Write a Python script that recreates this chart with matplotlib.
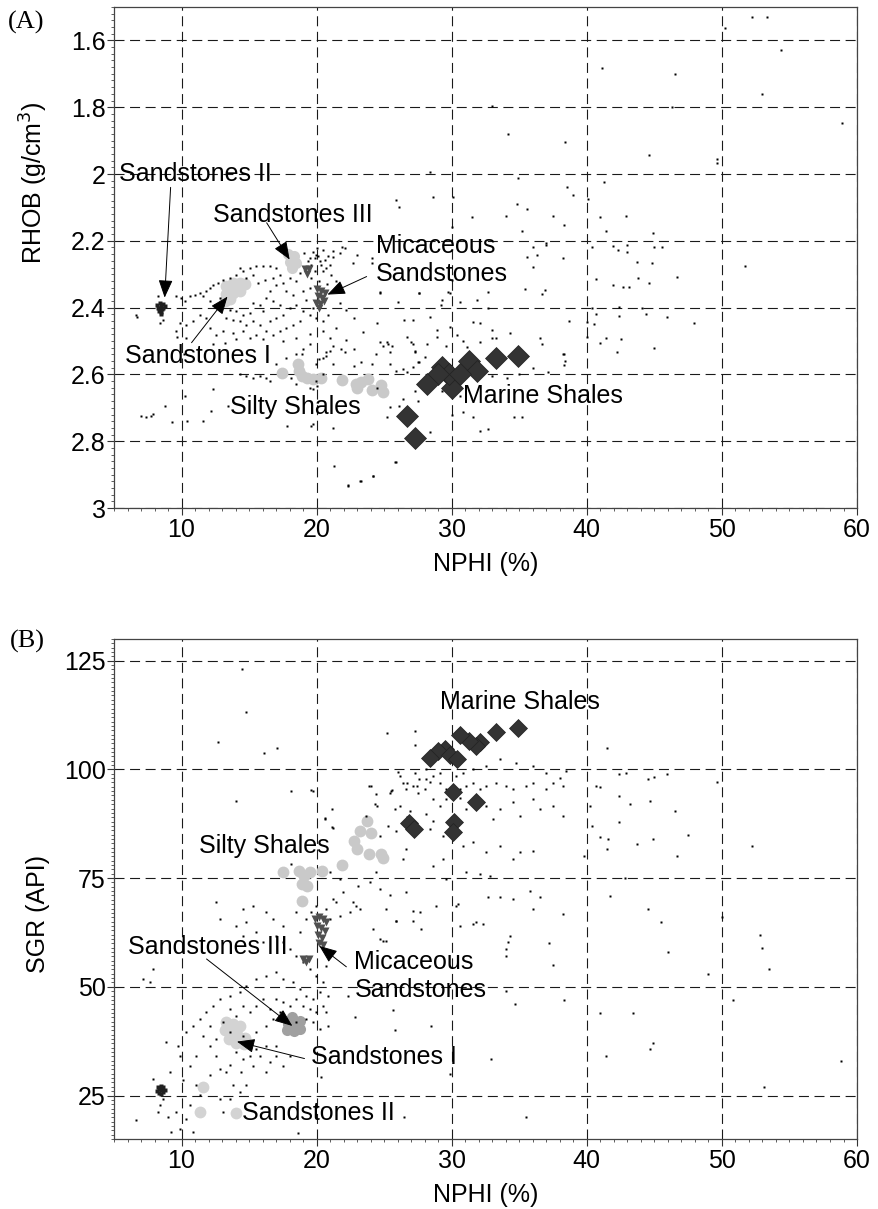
import numpy as np
import matplotlib
matplotlib.use("Agg")
import matplotlib.pyplot as plt
from matplotlib.ticker import MultipleLocator, FixedLocator

plt.rcParams['font.family'] = ['Liberation Sans', 'DejaVu Sans']

# ---- (A) NPHI vs RHOB ----
# background log samples
dots_a = [
    (50.2, 1.564), (52.2, 1.53), (53.3, 1.53), (54.4, 1.63), (41.1, 1.684), (46.5, 1.70), (52.96, 1.76),
    (58.9, 1.846), (33.0, 1.797), (46.3, 1.80), (34.2, 1.88), (38.4, 1.904), (44.6, 1.943), (49.6, 1.955),
    (49.6, 1.968), (34.9, 2.012), (38.5, 2.04), (39.0, 2.063), (34.8, 2.09), (35.6, 2.104), (41.3, 2.024),
    (40.1, 2.074), (34.0, 2.125), (37.5, 2.125), (41.0, 2.128), (42.9, 2.125), (31.5, 2.13), (35.2, 2.17),
    (38.3, 2.152), (41.4, 2.17), (44.9, 2.176), (30.1, 2.068), (36.0, 2.22), (35.6, 2.248), (36.3, 2.242),
    (37.0, 2.212), (38.2, 2.25), (36.0, 2.277), (40.4, 2.218), (41.9, 2.215), (42.3, 2.227), (43.0, 2.212),
    (43.0, 2.233), (43.7, 2.263), (44.8, 2.266), (45.0, 2.218), (45.6, 2.218), (40.7, 2.313), (41.9, 2.331),
    (42.7, 2.337), (43.1, 2.337), (43.8, 2.31), (44.6, 2.325), (46.7, 2.307), (51.7, 2.275), (35.4, 2.343),
    (36.9, 2.346), (36.7, 2.36), (32.7, 2.352), (29.9, 2.355),
    (40.4, 2.40), (42.4, 2.397), (44.1, 2.40), (40.7, 2.42), (42.4, 2.424), (44.4, 2.418), (45.9, 2.427),
    (47.9, 2.445), (38.7, 2.439), (40.0, 2.442), (40.5, 2.448), (40.0, 2.487), (41.4, 2.49), (42.5, 2.493),
    (41.0, 2.507), (45.0, 2.52), (42.2, 2.534), (38.3, 2.54), (38.4, 2.56), (38.3, 2.573),
    (20.2, 2.555), (21.2, 2.57), (20.7, 2.546), (22.1, 2.534), (22.8, 2.525), (23.3, 2.564), (24.1, 2.57),
    (24.4, 2.54), (24.7, 2.504), (25.3, 2.51), (25.4, 2.57), (25.9, 2.59), (26.7, 2.594), (27.1, 2.579),
    (27.3, 2.534), (28.0, 2.549), (28.2, 2.51), (27.5, 2.564), (26.7, 2.487), (27.1, 2.51), (28.9, 2.487),
    (29.6, 2.516), (30.4, 2.481), (30.8, 2.5), (31.1, 2.519), (32.1, 2.504), (33.0, 2.49), (34.3, 2.475),
    (36.5, 2.49), (36.7, 2.51), (38.2, 2.54), (36.0, 2.58), (37.1, 2.594), (33.0, 2.606), (34.1, 2.61),
    (35.0, 2.6), (30.4, 2.645), (30.6, 2.666), (30.8, 2.714), (31.6, 2.728), (32.1, 2.77), (32.7, 2.764),
    (34.6, 2.728), (35.2, 2.728), (30.0, 2.72), (29.3, 2.65), (27.3, 2.65), (27.5, 2.68), (26.4, 2.675),
    (26.1, 2.696), (25.4, 2.699), (25.2, 2.728), (28.4, 2.773), (25.9, 2.863), (24.2, 2.904), (23.3, 2.92),
    (22.3, 2.93), (21.3, 2.875), (19.6, 2.755), (21.2, 2.761), (18.9, 2.54), (19.7, 2.645), (20.0, 2.636),
    (22.8, 2.576), (24.5, 2.64),
    (23.0, 2.242), (24.7, 2.352), (24.1, 2.266), (26.0, 2.382), (27.6, 2.355), (29.3, 2.376), (30.6, 2.382),
    (31.9, 2.376), (32.7, 2.4), (29.2, 2.391), (29.7, 2.352), (26.5, 2.436), (27.1, 2.436), (28.4, 2.427),
    (28.9, 2.466), (29.9, 2.457), (31.6, 2.442), (32.1, 2.445), (33.0, 2.466), (33.3, 2.49), (25.2, 2.502),
    (25.6, 2.516), (25.4, 2.534), (27.0, 2.504), (27.3, 2.531), (27.6, 2.564), (26.4, 2.585), (24.5, 2.445),
    (22.8, 2.43), (22.2, 2.406), (21.7, 2.385), (23.4, 2.472), (22.2, 2.496), (21.2, 2.516), (21.8, 2.525),
    (20.7, 2.534), (24.9, 2.516),
    (25.9, 2.078), (26.1, 2.1), (28.6, 2.07), (22.7, 2.266), (24.1, 2.25), (22.1, 2.221), (21.2, 2.248),
    (21.7, 2.236), (21.9, 2.218), (24.7, 2.355), (27.6, 2.357), (28.4, 1.994), (30.0, 2.158), (30.0, 2.316),
    (37.0, 2.206),
    (6.64, 2.423), (8.37, 2.446), (8.62, 2.436), (8.25, 2.366), (9.60, 2.366), (9.98, 2.371), (10.22, 2.381),
    (10.59, 2.366), (10.96, 2.361), (11.33, 2.356), (11.58, 2.366), (11.83, 2.351), (12.07, 2.341),
    (12.07, 2.381), (12.44, 2.391), (12.81, 2.371), (12.32, 2.331), (12.69, 2.326), (13.06, 2.316),
    (13.56, 2.311), (14.05, 2.301), (14.54, 2.291), (15.04, 2.281), (15.53, 2.276), (16.02, 2.276),
    (16.52, 2.276), (17.01, 2.281), (17.26, 2.301), (14.3, 2.281), (14.79, 2.311), (15.28, 2.301),
    (15.65, 2.326), (16.15, 2.316), (16.77, 2.311), (17.01, 2.331), (17.51, 2.326), (18.0, 2.311),
    (18.49, 2.321), (17.75, 2.351), (18.25, 2.361), (16.52, 2.351), (16.27, 2.371), (16.77, 2.381),
    (17.26, 2.391), (15.78, 2.391), (15.28, 2.386), (16.02, 2.411), (15.04, 2.416), (14.54, 2.421),
    (14.05, 2.411), (13.56, 2.406), (13.31, 2.431), (13.80, 2.436), (14.30, 2.441), (14.79, 2.451),
    (15.28, 2.441), (15.78, 2.451), (16.52, 2.441), (17.01, 2.431), (17.51, 2.421), (18.0, 2.401),
    (18.49, 2.391), (18.99, 2.411), (19.48, 2.421), (18.74, 2.441), (18.25, 2.451), (17.75, 2.461),
    (17.26, 2.471), (16.77, 2.481), (16.27, 2.471), (15.53, 2.481), (15.04, 2.491), (14.54, 2.471),
    (13.80, 2.476), (13.06, 2.471), (12.57, 2.481), (12.07, 2.461), (11.83, 2.431), (11.33, 2.421),
    (10.84, 2.441), (10.35, 2.451), (9.85, 2.446), (9.60, 2.471), (10.35, 2.491), (12.32, 2.510),
    (13.19, 2.505), (14.05, 2.495), (16.02, 2.495), (17.51, 2.500), (18.49, 2.490), (19.48, 2.480),
    (20.47, 2.471), (20.96, 2.490), (21.46, 2.461), (20.47, 2.441), (19.98, 2.431), (20.84, 2.421),
    (19.73, 2.401), (19.23, 2.376), (18.99, 2.351), (19.48, 2.341), (18.74, 2.296), (19.23, 2.281),
    (19.48, 2.251), (19.98, 2.242), (20.22, 2.261), (19.73, 2.232), (20.47, 2.227), (20.84, 2.246),
    (20.72, 2.281), (21.09, 2.301), (21.46, 2.321),
    (19.36, 2.261), (19.6, 2.271), (19.85, 2.251), (20.1, 2.246), (20.35, 2.271), (20.6, 2.256),
    (19.85, 2.291), (20.47, 2.291), (20.96, 2.271), (19.1, 2.236), (20.0, 2.222), (21.2, 2.231),
    (19.6, 2.31), (20.2, 2.32), (20.8, 2.33), (21.3, 2.35),
    (14.3, 2.60), (14.79, 2.605), (15.28, 2.61), (15.78, 2.605), (16.27, 2.61), (16.52, 2.62), (18.12, 2.61),
    (18.49, 2.63), (19.48, 2.64), (19.98, 2.62), (20.47, 2.60), (19.98, 2.57), (20.47, 2.55), (20.96, 2.53),
    (18.49, 2.54), (17.75, 2.55), (17.01, 2.57), (18.99, 2.525), (19.48, 2.51),
    (7.01, 2.724), (7.38, 2.727), (7.75, 2.724), (7.88, 2.719), (8.74, 2.694), (10.22, 2.664), (12.32, 2.645),
    (12.2, 2.709), (13.43, 2.694), (9.26, 2.743), (10.37, 2.74), (11.56, 2.74), (6.67, 2.427), (9.63, 2.487),
    (10.2, 2.54), (17.8, 2.755), (19.7, 2.749), (22.3, 2.934), (23.2, 2.92), (24.2, 2.905), (25.8, 2.863),
]

marine_a = [(34.9, 2.546), (33.3, 2.552), (31.3, 2.561), (31.9, 2.591), (29.3, 2.579), (30.1, 2.615),
            (30.0, 2.64), (29.8, 2.60), (30.6, 2.60), (29.0, 2.60), (28.2, 2.63), (26.7, 2.725), (27.3, 2.79)]
silty_a = [(17.4, 2.595), (18.6, 2.57), (18.7, 2.59), (18.9, 2.606), (19.3, 2.61), (19.7, 2.613),
           (20.3, 2.612), (21.9, 2.618), (22.9, 2.63), (23.3, 2.622), (23.8, 2.615), (24.1, 2.648),
           (24.8, 2.632), (24.9, 2.652), (23.0, 2.64)]
sand1_a = [(13.3, 2.335), (13.8, 2.325), (14.3, 2.325), (14.7, 2.33), (13.3, 2.36), (13.8, 2.355),
           (14.3, 2.35), (13.2, 2.38), (13.6, 2.375)]
sand2_a = [(8.2, 2.392), (8.35, 2.40), (8.5, 2.395), (8.65, 2.402), (8.3, 2.41), (8.45, 2.412), (8.6, 2.388),
           (8.4, 2.385), (8.55, 2.405), (8.75, 2.396), (8.25, 2.40), (8.5, 2.42)]
sand3_a = [(17.9, 2.24), (18.3, 2.245), (18.0, 2.262), (18.45, 2.265), (18.2, 2.28)]
mica_a = [(20.0, 2.345), (20.3, 2.35), (20.6, 2.355), (20.1, 2.365), (20.4, 2.37), (19.95, 2.385),
          (20.25, 2.39), (20.55, 2.38), (20.2, 2.4), (19.15, 2.285), (19.45, 2.285), (19.3, 2.298)]

# text label, text position, arrow start, arrow tip
labels_a = [
    ("Sandstones II", (5.4, 2.0), (9.19, 2.04), (8.75, 2.37)),
    ("Sandstones III", (12.3, 2.122), (16.3, 2.146), (18.0, 2.256)),
    ("Micaceous\nSandstones", (24.4, 2.257), (23.7, 2.307), (20.8, 2.361)),
    ("Sandstones I", (5.8, 2.546), (10.74, 2.505), (13.4, 2.367)),
    ("Silty Shales", (13.55, 2.699), None, None),
    ("Marine Shales", (30.8, 2.666), None, None),
]

# ---- (B) NPHI vs SGR ----
dots_b = [
    (14.5, 123.2), (14.8, 113.1), (12.7, 106.2), (16.1, 103.7), (17.1, 105.0), (14.0, 92.7), (18.1, 95.0),
    (19.6, 95.2), (25.2, 108.3), (27.3, 108.9), (27.3, 105.5), (20.6, 88.8), (21.1, 86.7), (18.1, 78.2),
    (23.9, 96.1), (24.5, 91.5), (25.6, 95.2), (26.0, 99.3), (26.7, 96.8), (27.4, 96.1), (27.6, 97.7),
    (28.0, 95.4), (28.4, 97.0), (28.6, 93.1), (25.8, 90.8), (25.3, 86.9), (26.7, 89.0), (24.7, 84.6),
    (25.9, 85.8),
    (19.73, 95.0), (20.59, 88.5), (21.1, 90.8), (21.21, 86.6), (24.05, 96.2), (24.42, 94.3), (25.53, 95.0),
    (26.4, 96.9), (26.64, 95.4), (27.14, 96.2), (27.5, 94.6), (28.12, 97.7), (28.62, 98.5), (29.11, 96.9),
    (29.6, 95.4), (30.59, 95.4), (31.09, 96.2), (31.58, 96.9), (32.07, 95.4), (32.57, 96.2), (33.31, 96.9),
    (34.05, 96.2), (34.54, 95.4), (35.53, 96.2), (36.02, 96.9), (37.0, 95.4), (37.5, 96.9), (38.25, 96.2),
    (38.49, 99.6), (38.0, 98.1), (37.0, 99.2), (36.02, 100.8), (34.79, 101.5), (33.55, 102.3),
    (32.57, 100.8), (31.58, 100.0), (30.84, 99.2), (30.35, 98.5), (29.11, 99.2), (28.12, 100.0),
    (27.26, 99.2), (26.15, 98.5), (25.41, 94.6), (24.3, 92.0), (23.68, 89.3), (26.15, 91.6), (26.89, 90.4),
    (28.12, 89.7), (28.62, 88.1), (29.11, 91.6), (29.6, 93.1), (30.59, 93.5), (31.09, 90.8), (32.57, 91.6),
    (33.06, 88.5), (33.55, 90.8), (34.54, 92.4), (35.04, 89.3), (36.02, 93.1), (36.52, 90.8), (37.5, 91.6),
    (38.25, 89.3), (29.85, 87.8), (29.36, 84.7), (30.84, 82.4), (31.58, 83.2), (32.57, 80.9), (33.55, 82.4),
    (34.54, 79.4), (35.04, 80.9), (36.02, 81.3), (28.62, 77.8), (29.36, 79.4), (26.64, 81.7), (26.4, 79.4),
    (28.37, 86.2), (31.09, 76.3), (32.07, 75.9), (32.81, 75.5), (35.78, 72.1), (36.52, 70.6), (33.55, 70.6),
    (34.54, 70.2), (36.02, 67.9), (38.25, 66.7), (30.35, 68.7), (31.58, 64.4), (32.32, 64.4), (29.6, 74.8),
    (28.86, 68.7), (27.63, 67.1), (27.14, 65.2), (25.9, 65.2), (25.16, 67.9), (24.67, 61.0), (25.16, 60.6),
    (24.17, 63.3), (23.18, 67.9), (22.69, 69.4), (22.44, 67.1), (21.7, 66.4), (21.21, 70.2), (21.95, 71.7),
    (23.06, 73.2), (23.93, 74.0), (24.67, 72.5), (25.41, 71.0), (26.64, 71.7), (24.42, 76.3), (21.7, 74.8),
    (20.96, 76.3), (21.46, 69.4), (20.72, 67.9), (34.3, 61.8), (34.2, 60.3), (34.05, 58.7), (34.05, 57.2),
    (41.5, 105.0), (42.4, 98.9), (42.9, 99.1), (44.5, 97.9), (45.0, 98.2), (45.9, 98.9), (40.7, 96.1),
    (41.0, 95.9), (42.4, 93.8), (43.2, 92.0), (44.7, 92.7), (46.5, 90.4), (40.2, 91.5), (42.4, 87.8),
    (40.4, 86.9), (41.0, 84.4), (41.6, 83.9), (41.5, 81.7), (43.7, 82.8), (44.9, 83.9), (46.7, 80.0),
    (52.2, 82.3), (47.5, 85.0), (50.0, 66.0), (45.5, 65.0), (52.8, 62.0), (53.0, 59.0), (53.5, 54.0),
    (46.0, 58.0), (49.0, 53.0), (50.8, 47.0), (44.7, 35.6), (44.9, 37.0), (41.4, 34.0), (41.0, 44.0),
    (43.4, 44.0), (58.8, 33.0), (38.3, 47.0), (34.7, 46.0), (37.5, 55.0), (39.8, 80.0), (42.8, 75.0),
    (41.7, 70.8), (44.5, 68.0), (35.5, 20.0), (34.0, 49.0), (37.2, 60.0), (49.6, 97.0), (53.1, 27.0),
    (6.64, 19.3), (8.25, 21.2), (8.37, 22.8), (8.62, 24.3), (8.99, 20.1), (9.60, 21.2), (9.85, 17.4),
    (9.23, 16.7), (10.84, 16.7), (10.35, 19.7), (10.59, 22.8), (11.09, 27.4), (11.33, 25.1), (12.07, 29.7),
    (12.81, 31.2), (13.31, 30.4), (12.57, 34.2), (12.07, 36.5), (12.81, 24.3), (13.06, 21.2), (13.56, 24.3),
    (13.80, 27.4), (14.30, 25.8), (14.42, 30.4), (14.79, 27.4), (15.28, 31.9), (15.78, 34.2), (16.27, 30.4),
    (16.52, 32.7), (17.01, 34.2), (17.51, 31.9), (18.0, 34.2), (17.01, 36.5), (16.27, 36.5), (15.53, 35.8),
    (15.04, 34.2), (14.54, 33.5), (14.05, 35.0), (13.56, 32.0), (11.09, 34.2), (10.59, 31.9), (10.1, 28.5),
    (9.73, 36.5), (8.86, 37.3), (9.85, 34.2), (9.11, 30.4), (7.88, 28.9), (10.35, 39.6), (10.84, 41.1),
    (11.33, 42.7), (11.83, 44.2), (12.32, 45.7), (12.81, 47.2), (13.56, 48.0), (14.30, 48.8), (14.79, 50.3),
    (15.53, 51.8), (16.27, 52.6), (17.01, 53.4), (17.51, 51.8), (18.25, 51.1), (18.74, 49.5), (19.23, 48.0),
    (19.73, 47.2), (20.22, 48.8), (20.47, 45.7), (19.98, 44.2), (19.48, 45.0), (18.99, 45.7), (18.49, 47.2),
    (18.0, 45.7), (17.51, 46.5), (17.01, 47.2), (16.52, 45.0), (16.02, 47.2), (15.53, 45.7), (15.04, 44.2),
    (14.54, 45.7), (14.05, 43.4), (13.56, 45.0), (13.06, 41.9), (12.07, 41.1), (11.58, 38.8), (12.57, 38.1),
    (13.56, 39.6), (14.54, 38.8), (15.53, 39.6), (16.27, 41.1), (16.77, 42.7), (17.26, 44.2), (17.75, 42.7),
    (18.49, 41.9), (19.23, 42.7), (19.73, 41.9), (20.22, 40.4), (20.84, 41.1), (20.72, 44.2), (20.84, 48.0),
    (20.47, 51.1), (19.98, 52.6), (19.48, 54.1), (18.99, 55.7), (18.49, 57.2), (18.0, 58.7), (17.51, 60.2),
    (17.01, 61.8), (17.51, 64.1), (16.77, 65.6), (16.27, 67.1), (15.28, 68.6), (14.54, 67.9), (14.79, 64.8),
    (14.05, 64.1), (15.53, 62.5), (16.02, 60.2), (14.54, 61.8), (12.81, 65.6), (12.57, 69.4), (18.74, 62.5),
    (19.23, 65.6), (19.6, 67.1), (19.98, 68.6), (18.49, 67.1), (20.47, 61.8), (20.96, 65.6), (20.72, 54.9),
    (7.88, 54.1), (7.14, 51.8), (7.63, 51.1),
    (22.94, 68.7), (24.91, 60.6), (25.9, 65.2), (27.1, 67.5), (27.75, 63.3), (30.47, 69.0), (30.6, 64.1),
    (31.8, 64.8), (32.7, 70.6), (22.32, 48.0), (22.81, 43.0), (25.65, 44.6), (25.78, 40.0), (28.5, 41.1),
    (20.35, 29.3), (29.85, 30.0), (32.94, 33.5), (26.5, 20.1), (18.6, 16.3),
]

marine_b = [(34.9, 109.6), (33.3, 108.5), (32.1, 106.4), (31.8, 105.3), (31.3, 106.6), (30.6, 107.8),
            (29.5, 104.6), (29.0, 104.3), (29.9, 103.3), (30.4, 102.3), (28.4, 102.7), (30.1, 94.7),
            (31.8, 92.4), (30.2, 88.0), (30.1, 85.5), (26.8, 87.6), (27.2, 86.4)]
silty_b = [(17.5, 76.5), (18.7, 76.7), (19.1, 75.5), (19.5, 76.3), (19.3, 73.2), (18.9, 73.6), (18.9, 69.8),
           (20.4, 76.7), (21.9, 78.0), (23.0, 81.7), (22.8, 83.6), (23.2, 85.9), (23.7, 88.2), (24.05, 85.3),
           (23.9, 80.5), (24.9, 79.7), (24.8, 80.6)]
sand1_b = [(13.3, 41.8), (13.8, 41.5), (14.3, 41.0), (13.2, 40.0), (13.7, 39.7), (14.2, 38.8), (14.7, 38.2),
           (13.5, 38.0), (14.0, 37.0), (14.6, 36.8), (11.6, 27.0), (11.4, 21.3), (14.05, 20.9)]
sand2_b = [(8.2, 26.0), (8.35, 26.8), (8.5, 26.2), (8.65, 26.9), (8.3, 25.6), (8.45, 27.3), (8.6, 25.8),
           (8.4, 26.5), (8.55, 26.6), (8.75, 26.3), (8.25, 26.9), (8.5, 25.4)]
sand3_b = [(17.8, 40.0), (18.3, 39.8), (18.8, 40.2), (17.9, 41.5), (18.4, 41.8), (18.8, 42.2), (18.2, 43.0),
           (18.6, 40.9)]
mica_b = [(19.9, 65.5), (20.2, 66.0), (20.5, 65.5), (20.7, 64.8), (20.0, 64.0), (20.3, 63.5), (20.6, 62.8),
          (20.1, 62.0), (20.4, 61.2), (20.2, 60.0), (20.5, 59.6), (19.0, 56.3), (19.4, 56.3), (19.2, 55.6)]

labels_b = [
    ("Marine Shales", (29.1, 115.4), None, None),
    ("Silty Shales", (11.3, 82.3), None, None),
    ("Sandstones III", (6.0, 59.2), (11.85, 56.4), (18.2, 41.0)),
    ("Micaceous\nSandstones", (22.8, 52.5), (22.2, 54.6), (20.2, 59.4)),
    ("Sandstones I", (19.6, 33.9), (19.1, 33.5), (14.1, 37.4)),
    ("Sandstones II", (14.5, 20.9), None, None),
]


def xy(pts):
    a = np.array(pts)
    return a[:, 0], a[:, 1]


def draw_panel(ax, dots, marine, silty, sand1, sand2, sand3, mica, labels, dsize, sand3_color):
    ax.plot(*xy(dots), 's', ms=2.1, color='k', mec='none', zorder=3)
    ax.plot(*xy(silty), 'o', ms=8.5, color='#c9c9c9', mec='none', zorder=2)
    ax.plot(*xy(sand1), 'o', ms=8.5, color='#d3d3d3', mec='none', zorder=2)
    ax.plot(*xy(sand3), 'o', ms=8, color=sand3_color, mec='none', zorder=2)
    ax.plot(*xy(mica), 'v', ms=6, color='#505050', mec='none', zorder=4)
    ax.plot(*xy(sand2), 's', ms=2.8, color='#202020', mec='none', zorder=4)
    ax.plot(*xy(marine), 'D', ms=dsize, color='#333333', mec='#222222', mew=0.5, zorder=5)
    for text, pos, start, tip in labels:
        ax.text(pos[0], pos[1], text, fontsize=18, ha='left', va='center', zorder=6)
        if start is not None:
            ax.annotate('', xy=tip, xytext=start, zorder=6,
                        arrowprops=dict(arrowstyle='-|>,head_length=0.55,head_width=0.22',
                                        mutation_scale=20, color='k', lw=0.7,
                                        shrinkA=0, shrinkB=0))


def style_axes(ax):
    ax.set_xlim(5, 60)
    ax.xaxis.set_major_locator(FixedLocator([10, 20, 30, 40, 50, 60]))
    ax.xaxis.set_minor_locator(MultipleLocator(1))
    ax.grid(True, which='major', ls=(0, (9, 5)), color='#1a1a1a', lw=0.8)
    ax.tick_params(which='major', direction='out', length=5, width=0.8, labelsize=18, pad=2,
                   color='#333333')
    ax.tick_params(which='minor', direction='out', length=2.5, width=0.6, color='#444444')
    ax.tick_params(axis='y', pad=1)
    for s in ax.spines.values():
        s.set_color('#444444')
        s.set_linewidth(0.9)
    ax.set_xlabel('NPHI (%)', fontsize=18)
    ax.xaxis.set_label_coords(0.5, -0.088)


fig = plt.figure(figsize=(8.79, 12.09), dpi=100)
ax_a = fig.add_axes([0.1297, 0.5798, 0.8453, 0.4144])
ax_b = fig.add_axes([0.1297, 0.0579, 0.8453, 0.4136])

draw_panel(ax_a, dots_a, marine_a, silty_a, sand1_a, sand2_a, sand3_a, mica_a, labels_a, 11, '#d0d0d0')
style_axes(ax_a)
ax_a.set_ylim(3.0, 1.5)
ax_a.yaxis.set_major_locator(FixedLocator([1.6, 1.8, 2.0, 2.2, 2.4, 2.6, 2.8, 3.0]))
ax_a.set_yticklabels(['1.6', '1.8', '2', '2.2', '2.4', '2.6', '2.8', '3'])
ax_a.yaxis.set_minor_locator(MultipleLocator(0.02))
ax_a.set_ylabel('RHOB (g/cm$^3$)', fontsize=18)
ax_a.yaxis.set_label_coords(-0.086, 0.649)

draw_panel(ax_b, dots_b, marine_b, silty_b, sand1_b, sand2_b, sand3_b, mica_b, labels_b, 9.5, '#a0a0a0')
style_axes(ax_b)
ax_b.set_ylim(15, 130)
ax_b.yaxis.set_major_locator(FixedLocator([25, 50, 75, 100, 125]))
ax_b.yaxis.set_minor_locator(MultipleLocator(1))
ax_b.set_ylabel('SGR (API)', fontsize=18)
ax_b.yaxis.set_label_coords(-0.086, 0.45)

fig.text(8 / 879, 1 - 22 / 1209, '(A)', family=['Liberation Serif', 'DejaVu Serif'], fontsize=19, va='center')
fig.text(10 / 879, 1 - 641 / 1209, '(B)', family=['Liberation Serif', 'DejaVu Serif'], fontsize=19, va='center')

fig.savefig('out.png', dpi=100)
